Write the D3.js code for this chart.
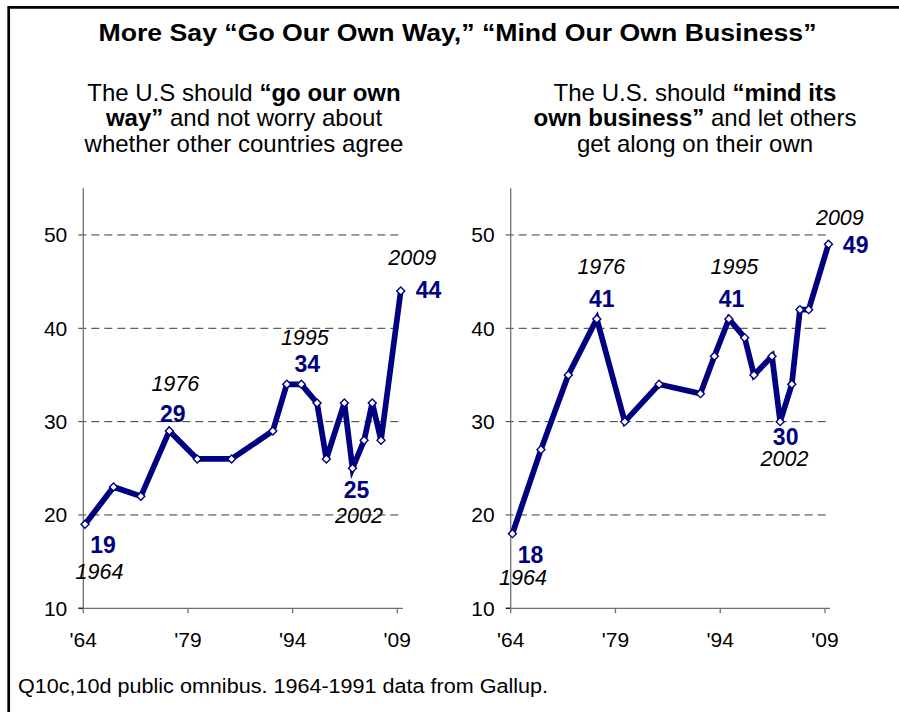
<!DOCTYPE html>
<html>
<head>
<meta charset="utf-8">
<script src="https://cdn.jsdelivr.net/npm/d3@7/dist/d3.min.js"></script>
<style>
  html, body { margin: 0; padding: 0; background: #fff; }
  svg { display: block; font-family: "Liberation Sans", Arial, sans-serif; }
</style>
</head>
<body>
<svg id="chart" width="899" height="712"></svg>
<script>
// Survey dates (approximate field months) shared by both trend lines
const surveyDates = ["1964-04", "1968-05", "1972-04", "1976-05", "1980-05", "1985-04",
  "1991-03", "1993-03", "1995-04", "1997-07", "1998-11", "2001-06", "2002-08",
  "2004-04", "2005-06", "2006-09", "2009-07"];

// Percent agreeing with each statement
const goOurOwnWay     = [19, 23, 22, 29, 26, 26, 29, 34, 34, 32, 26, 32, 25, 28, 32, 28, 44];
const mindOwnBusiness = [18, 27, 35, 41, 30, 34, 33, 37, 41, 39, 35, 37, 30, 34, 42, 42, 49];

// Axis ticks
const yTicks = [10, 20, 30, 40, 50];
const xTickYears = [1964, 1979, 1994, 2009];
const xTickLabels = ["'64", "'79", "'94", "'09"];

const titleText = "More Say \u201cGo Our Own Way,\u201d \u201cMind Our Own Business\u201d";
const footnoteText = "Q10c,10d public omnibus. 1964-1991 data from Gallup.";

const leftSubtitle = [
  [["The U.S should ", false], ["\u201cgo our own", true]],
  [["way\u201d", true], [" and not worry about", false]],
  [["whether other countries agree", false]]
];
const rightSubtitle = [
  [["The U.S. should ", false], ["\u201cmind its", true]],
  [["own business\u201d", true], [" and let others", false]],
  [["get along on their own", false]]
];

const NAVY = "#000080";
const parse = d3.timeParse("%Y-%m");
const dates = surveyDates.map(parse);

const svg = d3.select("#chart");

// Frame
svg.append("path")
  .attr("d", "M8.7,712 V7.3 H899")
  .attr("fill", "none").attr("stroke", "#000").attr("stroke-width", 2.7);

// Title
svg.append("text")
  .attr("x", 457.5).attr("y", 41)
  .attr("text-anchor", "middle")
  .attr("font-size", 23).attr("font-weight", "bold")
  .attr("textLength", 718).attr("lengthAdjust", "spacingAndGlyphs")
  .text(titleText);

// Footnote
svg.append("text")
  .attr("x", 18).attr("y", 693)
  .attr("font-size", 20)
  .attr("font-family", "'Liberation Sans Narrow', 'Arial Narrow', 'Liberation Sans', Arial, sans-serif")
  .attr("textLength", 530).attr("lengthAdjust", "spacingAndGlyphs")
  .text(footnoteText);

function drawSubtitle(lines, cx) {
  const t = svg.append("text")
    .attr("text-anchor", "middle")
    .attr("font-size", 24);
  lines.forEach((parts, i) => {
    const line = t.append("tspan").attr("x", cx).attr("y", 101 + i * 25.3);
    parts.forEach(([txt, bold]) => {
      line.append("tspan").attr("font-weight", bold ? "bold" : "normal").text(txt);
    });
  });
}

function drawPanel(cfg) {
  const x = d3.scaleTime()
    .domain([new Date(1964, 0, 1), new Date(2009, 0, 1)])
    .range([cfg.x0, cfg.x1]);
  const y = d3.scaleLinear().domain([10, 55]).range([608.3, 188.3]);

  const g = svg.append("g");

  // Dashed gridlines (with the left tick) for 20..50
  g.selectAll("line.grid")
    .data(yTicks.filter(v => v > 10))
    .join("line")
    .attr("x1", cfg.x0 - 5).attr("x2", cfg.gridEnd)
    .attr("y1", d => y(d)).attr("y2", d => y(d))
    .attr("stroke", "#3a3a3a").attr("stroke-width", 1)
    .attr("stroke-dasharray", "8,5");

  // Tick at 10
  g.append("line")
    .attr("x1", cfg.x0 - 5).attr("x2", cfg.x0)
    .attr("y1", y(10)).attr("y2", y(10))
    .attr("stroke", "#222").attr("stroke-width", 1.5);

  // Axes
  g.append("line")
    .attr("x1", cfg.x0).attr("x2", cfg.x0)
    .attr("y1", y(55)).attr("y2", y(10))
    .attr("stroke", "#707070").attr("stroke-width", 1.3);
  g.append("line")
    .attr("x1", cfg.x0).attr("x2", cfg.axisEnd)
    .attr("y1", y(10)).attr("y2", y(10))
    .attr("stroke", "#707070").attr("stroke-width", 1.3);

  // X ticks and labels
  const xt = xTickYears.map(yr => new Date(yr, 0, 1));
  g.selectAll("line.xtick")
    .data(xt)
    .join("line")
    .attr("x1", d => x(d)).attr("x2", d => x(d))
    .attr("y1", y(10)).attr("y2", y(10) + 5)
    .attr("stroke", "#707070").attr("stroke-width", 1.3);
  g.selectAll("text.xlabel")
    .data(xt)
    .join("text")
    .attr("x", d => x(d)).attr("y", 647)
    .attr("text-anchor", "middle").attr("font-size", 21)
    .text((d, i) => xTickLabels[i]);

  // Y labels
  g.selectAll("text.ylabel")
    .data(yTicks)
    .join("text")
    .attr("x", cfg.x0 - 16).attr("y", d => y(d) + 7.3)
    .attr("text-anchor", "end").attr("font-size", 21)
    .text(d => d);

  const pts = cfg.values.map((v, i) => ({ date: dates[i], value: v }));

  // Trend line
  g.append("path")
    .datum(pts)
    .attr("fill", "none").attr("stroke", NAVY)
    .attr("stroke-width", 5.7).attr("stroke-linejoin", "miter")
    .attr("d", d3.line().x(d => x(d.date)).y(d => y(d.value)));

  // Diamond markers
  g.selectAll("path.marker")
    .data(pts)
    .join("path")
    .attr("d", d3.symbol(d3.symbolSquare, 32)())
    .attr("transform", d => `translate(${x(d.date)},${y(d.value)}) rotate(45)`)
    .attr("fill", "#fff").attr("stroke", NAVY).attr("stroke-width", 1.4);

  // Value and year callouts
  cfg.callouts.forEach(c => {
    const p = pts[c.i];
    const px = x(p.date), py = y(p.value);
    g.append("text")
      .attr("x", px + c.vx).attr("y", py + c.vy)
      .attr("text-anchor", c.anchor || "middle")
      .attr("font-size", 23).attr("font-weight", "bold").attr("fill", NAVY)
      .text(p.value);
    g.append("text")
      .attr("x", px + c.yx).attr("y", py + c.yy)
      .attr("text-anchor", "middle")
      .attr("font-size", 21.5).attr("font-style", "italic")
      .text(p.date.getFullYear());
  });
}

drawSubtitle(leftSubtitle, 244);
drawSubtitle(rightSubtitle, 695);

drawPanel({
  values: goOurOwnWay, x0: 83.3, x1: 397.3, gridEnd: 400, axisEnd: 403,
  callouts: [
    { i: 0,  vx: 18,  vy: 29,  yx: 14.5, yy: 55 },
    { i: 3,  vx: 3.5, vy: -8.5, yx: 6,  yy: -40 },
    { i: 8,  vx: 6,   vy: -12.5, yx: 3.5, yy: -39.5 },
    { i: 12, vx: 4,   vy: 30,  yx: 6.5, yy: 54.5 },
    { i: 16, vx: 15,  vy: 7.5, yx: 11.5, yy: -26, anchor: "start" }
  ]
});

drawPanel({
  values: mindOwnBusiness, x0: 510.7, x1: 825, gridEnd: 827, axisEnd: 830,
  callouts: [
    { i: 0,  vx: 18,  vy: 29.5, yx: 10.5, yy: 51.5 },
    { i: 3,  vx: 5,   vy: -11.5, yx: 4.5, yy: -45 },
    { i: 8,  vx: 2.7, vy: -11.5, yx: 5.5, yy: -45 },
    { i: 12, vx: 5.5, vy: 23, yx: 4.3, yy: 44 },
    { i: 16, vx: 14.4, vy: 8.4, yx: 11.4, yy: -19.3, anchor: "start" }
  ]
});
</script>
</body>
</html>
